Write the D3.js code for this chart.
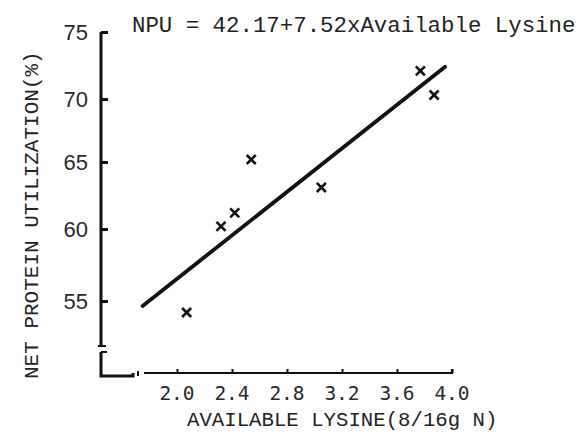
<!DOCTYPE html>
<html><head><meta charset="utf-8">
<script src="https://cdn.jsdelivr.net/npm/d3@7"></script>
<style>body{margin:0;background:#fff}</style>
</head><body>
<script>
// Data
const lysine = [2.07, 2.32, 2.42, 2.54, 3.05, 3.77, 3.87];
const npu    = [54.2, 60.2, 61.2, 65.2, 63.1, 72.1, 70.3];
const fitX   = [1.75, 3.95];
const fitY   = [54.65, 72.4];
const xTicks = [2.0, 2.4, 2.8, 3.2, 3.6, 4.0];
const yTicks = [75, 70, 65, 60, 55];
const title  = "NPU = 42.17+7.52xAvailable Lysine";
const xTitle = "AVAILABLE LYSINE(8/16g N)";
const yTitle = "NET PROTEIN UTILIZATION(%)";

const W = 581, H = 435;
const svg = d3.select("body").append("svg").attr("width", W).attr("height", H);
const ink = "#111";

const x = d3.scaleLinear().domain([2.0, 4.0]).range([177, 452]);
// hand-drawn axis: tick spacing is uneven, so use a polylinear scale
const y = d3.scaleLinear().domain([75, 70, 65, 60, 55]).range([32, 99, 162, 229, 301]);

// Y axis main line
const axX = 101;
svg.append("line").attr("x1", axX).attr("x2", axX).attr("y1", y(75)).attr("y2", 346)
  .attr("stroke", ink).attr("stroke-width", 3);
// break marks
svg.append("line").attr("x1", axX - 3).attr("x2", axX + 5).attr("y1", 346).attr("y2", 346).attr("stroke", ink).attr("stroke-width", 2);
svg.append("line").attr("x1", axX).attr("x2", axX + 6).attr("y1", 352).attr("y2", 352).attr("stroke", ink).attr("stroke-width", 2);
svg.append("path").attr("d", `M${axX},352 L${axX},376 L${133},376 L${133},373`)
  .attr("fill", "none").attr("stroke", ink).attr("stroke-width", 3);
svg.append("line").attr("x1", 138).attr("x2", 138).attr("y1", 371).attr("y2", 376).attr("stroke", ink).attr("stroke-width", 2);

// y ticks
const yAxis = d3.axisRight(y).tickValues(yTicks).tickSize(7).tickFormat("");
const gy = svg.append("g").attr("transform", `translate(${axX},0)`).call(yAxis);
gy.select(".domain").remove();
gy.selectAll(".tick line").attr("stroke", ink).attr("stroke-width", 3);
svg.selectAll(".ylab").data(yTicks).join("text").attr("class", "ylab")
  .attr("x", 88).attr("y", d => y(d)).attr("dy", "0.36em")
  .attr("text-anchor", "end").attr("font-family", "Liberation Sans, Arial, sans-serif")
  .attr("font-size", 22).attr("fill", "#2a2a2a").text(d => d);

// X axis
const gx = svg.append("g").attr("transform", `translate(0,373)`)
  .call(d3.axisTop(x).tickValues(xTicks).tickSize(4).tickFormat(""));
gx.select(".domain").attr("d", `M144,0H${x(4.0)}V-4`).attr("stroke", ink).attr("stroke-width", 2.2).attr("fill", "none");
gx.selectAll(".tick line").attr("stroke", ink).attr("stroke-width", 2);
svg.selectAll(".xlab").data(xTicks).join("text").attr("class", "xlab")
  .attr("x", d => x(d)).attr("y", 400)
  .attr("text-anchor", "middle").attr("font-family", "DejaVu Sans Mono, monospace")
  .attr("font-size", 19.5).attr("fill", "#2a2a2a").text(d => d.toFixed(1));

// fit line
svg.append("line")
  .attr("x1", x(fitX[0])).attr("y1", y(fitY[0]))
  .attr("x2", x(fitX[1])).attr("y2", y(fitY[1]))
  .attr("stroke", ink).attr("stroke-width", 3.8).attr("stroke-linecap", "round");

// points as x marks
const sym = d3.symbol().type(d3.symbolX).size(55);
svg.selectAll(".pt").data(lysine.map((v, i) => [v, npu[i]])).join("path").attr("class", "pt")
  .attr("transform", d => `translate(${x(d[0])},${y(d[1])})`)
  .attr("d", sym).attr("fill", "none").attr("stroke", ink).attr("stroke-width", 2.6);

// titles
svg.append("text").attr("x", 132).attr("y", 32)
  .attr("font-family", "Liberation Mono, Courier New, monospace").attr("font-size", 22.4)
  .attr("fill", "#222").style("white-space", "pre").text(title);
svg.append("text").attr("x", 187).attr("y", 426)
  .attr("font-family", "Liberation Mono, Courier New, monospace").attr("font-size", 20.7)
  .attr("fill", "#222").text(xTitle);
svg.append("text").attr("transform", `translate(38,379) rotate(-90)`)
  .attr("font-family", "Liberation Mono, Courier New, monospace").attr("font-size", 21)
  .attr("fill", "#222").text(yTitle);
</script>
</body></html>
